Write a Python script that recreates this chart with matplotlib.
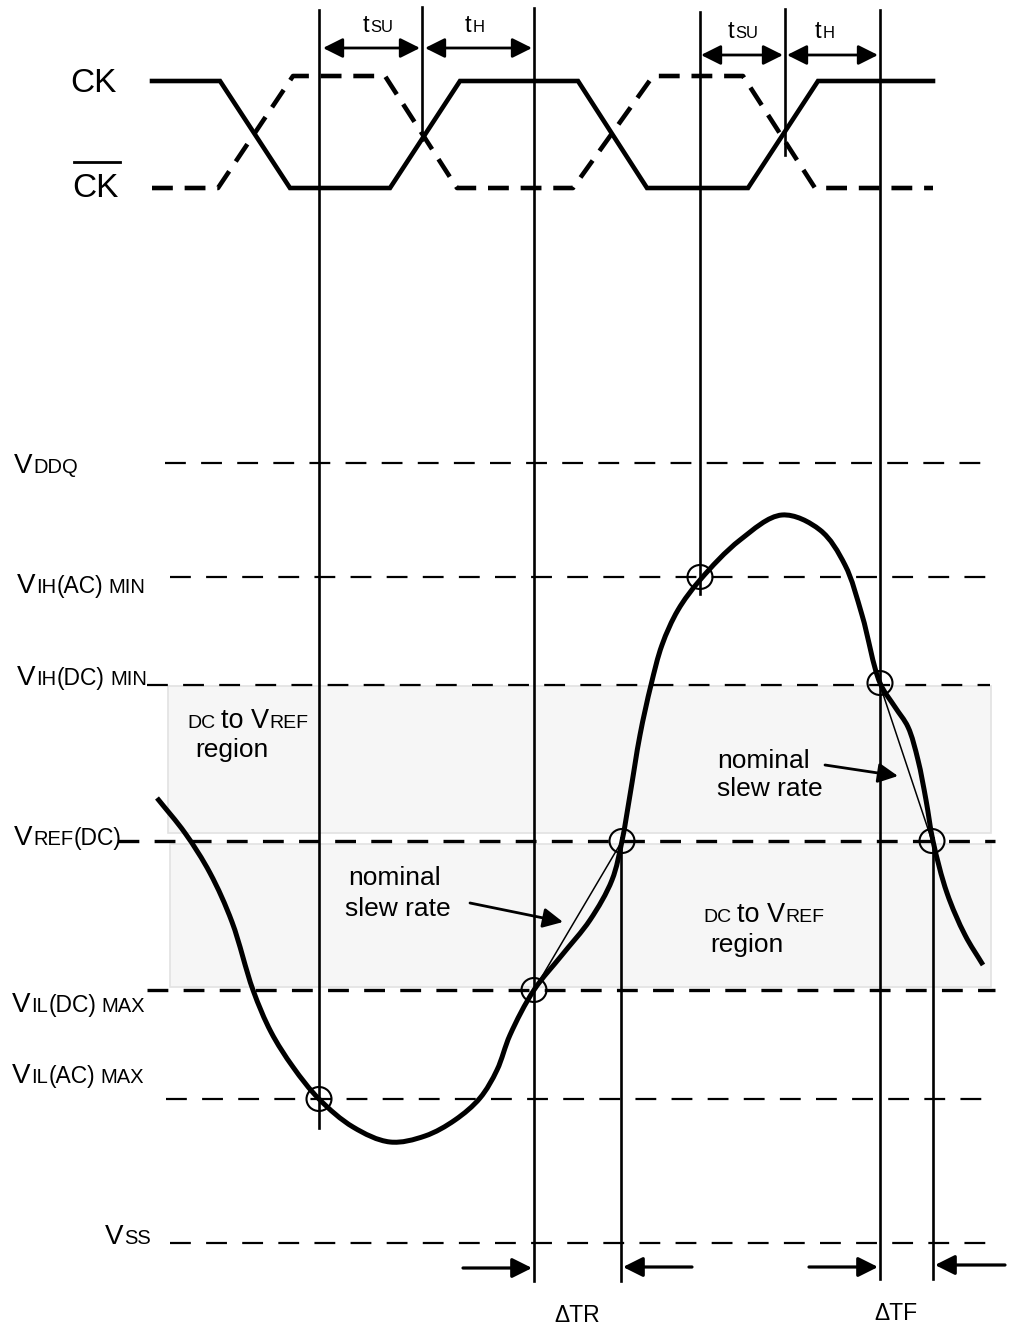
import matplotlib
matplotlib.use("Agg")
import matplotlib.pyplot as plt
import numpy as np
from matplotlib.path import Path
from matplotlib.patches import PathPatch, Ellipse, Rectangle, FancyArrowPatch

plt.rcParams['font.family'] = ['Liberation Sans', 'DejaVu Sans']
plt.rcParams['lines.scale_dashes'] = False

# clock waveforms (pixel coords of the drawing)
ck_x = [152, 220, 290, 390, 460, 578, 647, 748, 818, 933]
ck_y = [81, 81, 188, 188, 81, 81, 188, 188, 81, 81]
ckb_x = [152, 218, 293, 385, 457, 573, 653, 743, 815, 933]
ckb_y = [188, 188, 76, 76, 188, 188, 76, 76, 188, 188]

# voltage levels: label parts, label pos, line y, line start/end, thick?
level_names = ["VDDQ", "VIH(AC) MIN", "VIH(DC) MIN", "VREF(DC)", "VIL(DC) MAX", "VIL(AC) MAX", "VSS"]
level_parts = [
    [("V", 20), ("DDQ", 14.5)],
    [("V", 20), ("IH", 14.5), ("(AC)", 16.5), (" ", 0), ("MIN", 14.5)],
    [("V", 20), ("IH", 14.5), ("(DC)", 16.5), (" ", 0), ("MIN", 14.5)],
    [("V", 20), ("REF", 14.5), ("(DC)", 16.5)],
    [("V", 20), ("IL", 14.5), ("(DC)", 16.5), (" ", 0), ("MAX", 14.5)],
    [("V", 20), ("IL", 14.5), ("(AC)", 16.5), (" ", 0), ("MAX", 14.5)],
    [("V", 20), ("SS", 14.5)],
]
level_label_x = [14, 17, 17, 14, 12, 12, 105]
level_label_y = [473, 593, 685, 845, 1012, 1083, 1244]
level_y = [463, 577, 685, 841, 990, 1099, 1243]
level_x0 = [165, 170, 147, 118, 147, 166, 170]
level_x1 = [990, 990, 990, 995, 995, 990, 1000]
level_thick = [False, False, False, True, True, False, False]

# vertical timing lines: x, top, bottom
vline_x = [319, 534, 700, 880, 621, 933, 422, 785]
vline_top = [10, 8, 12, 10, 838, 838, 7, 9]
vline_bot = [1128, 1281, 594, 1279, 1281, 1279, 140, 155]

# input signal
sig_x = [157, 185, 210, 232, 253, 271, 293, 319, 353, 390, 425, 455, 480, 497,
         510, 534, 562, 590, 612, 622, 630, 640, 651, 662, 678, 700, 740, 782,
         820, 845, 862, 880, 895, 908, 918, 926, 933, 947, 965, 983]
sig_y = [798, 833, 873, 922, 990, 1032, 1067, 1099, 1127, 1142, 1136, 1120, 1098, 1070,
         1035, 990, 955, 920, 880, 841, 795, 735, 685, 645, 610, 580, 540, 515,
         530, 565, 615, 683, 707, 727, 760, 800, 841, 893, 935, 965]

# crossing markers
mark_x = [319, 534, 622, 700, 880, 932]
mark_y = [1099, 990, 841, 577, 683, 841]

# nominal slew rate lines
slew_x = [[534, 622], [880, 932]]
slew_y = [[990, 841], [685, 841]]

# setup / hold arrows
th_arrows = [((323, 48), (420, 48)), ((425, 48), (532, 48)),
             ((701, 55), (783, 55)), ((787, 55), (878, 55))]
th_labels = [("SU", 363, 32), ("H", 465, 32), ("SU", 728, 38), ("H", 815, 38)]

# delta arrows at the bottom
delta_arrows = [((463, 1268), (532, 1268)), ((692, 1267), (623, 1267)),
                ((809, 1267), (878, 1267)), ((1005, 1265), (935, 1265))]
delta_labels = [("\u0394TR", 577, 1322), ("\u0394TF", 896, 1320)]

fig = plt.figure(figsize=(10.13, 13.28), dpi=100)
ax = fig.add_axes([0, 0, 1, 1])
ax.set_xlim(0, 1013)
ax.set_ylim(1328, 0)
ax.axis('off')
renderer = fig.canvas.get_renderer()


def rich_text(x, y, parts):
    for s, size in parts:
        if s == " ":
            x += 5
            continue
        t = ax.text(x, y, s, fontsize=size, va='baseline', ha='left', zorder=6)
        x += t.get_window_extent(renderer).width + 0.5


def smooth_path(xs, ys, alpha=0.5):
    # centripetal Catmull-Rom through the points, as cubic Bezier segments
    pts = np.column_stack([xs, ys]).astype(float)
    n = len(pts)
    ext = np.vstack([2 * pts[0] - pts[1], pts, 2 * pts[-1] - pts[-2]])
    verts = [pts[0]]
    codes = [Path.MOVETO]
    for i in range(1, n):
        p0, p1, p2, p3 = ext[i - 1], ext[i], ext[i + 1], ext[i + 2]
        d0 = np.linalg.norm(p1 - p0) ** alpha
        d1 = np.linalg.norm(p2 - p1) ** alpha
        d2 = np.linalg.norm(p3 - p2) ** alpha
        m1 = (p1 - p0) / d0 - (p2 - p0) / (d0 + d1) + (p2 - p1) / d1
        m2 = (p2 - p1) / d1 - (p3 - p1) / (d1 + d2) + (p3 - p2) / d2
        verts += [p1 + m1 * d1 / 3, p2 - m2 * d1 / 3, p2]
        codes += [Path.CURVE4] * 3
    return Path(verts, codes)


def arrow(a, b, style='-|>', lw=2.0):
    ax.add_patch(FancyArrowPatch(a, b, arrowstyle=style + ',head_length=12,head_width=6',
                                 mutation_scale=1, lw=lw, color='k',
                                 shrinkA=0, shrinkB=0, zorder=5))


# shaded DC-to-VREF regions
ax.add_patch(Rectangle((168, 686), 823, 147, facecolor='#f6f6f6', edgecolor='#e2e2e2', lw=1.2, zorder=0))
ax.add_patch(Rectangle((170, 844), 821, 143, facecolor='#f6f6f6', edgecolor='#e2e2e2', lw=1.2, zorder=0))

# clocks
ax.plot(ck_x, ck_y, color='k', lw=3.3, solid_joinstyle='miter', zorder=3)
ax.plot(ckb_x, ckb_y, color='k', lw=3.3, dashes=(15, 8.5), zorder=3)
ax.text(70, 92, "CK", fontsize=24, va='baseline', zorder=6)
ax.text(72, 197, "CK", fontsize=24, va='baseline', zorder=6)
ax.plot([74, 120], [162, 162], color='k', lw=2)

# levels
for i in range(len(level_names)):
    ax.plot([level_x0[i], level_x1[i]], [level_y[i], level_y[i]], color='k',
            lw=2.4 if level_thick[i] else 1.6, dashes=(15, 11), zorder=2)
    rich_text(level_label_x[i], level_label_y[i], level_parts[i])

# vertical lines
for x, t, b in zip(vline_x, vline_top, vline_bot):
    ax.plot([x, x], [t, b], color='k', lw=1.9, zorder=2)

# signal
ax.add_patch(PathPatch(smooth_path(sig_x, sig_y), fill=False, lw=3.6, edgecolor='k',
                       capstyle='butt', zorder=3))
for xs, ys in zip(slew_x, slew_y):
    ax.plot(xs, ys, color='k', lw=1.1, zorder=3)
for x, y in zip(mark_x, mark_y):
    ax.add_patch(Ellipse((x, y), 25, 24, fill=False, lw=1.5, edgecolor='k', zorder=4))

# tSU / tH
for a, b in th_arrows:
    arrow(a, b, '<|-|>')
for sub, x, y in th_labels:
    rich_text(x, y, [("t", 17), (sub, 12)])

# region labels
for x, y in [(187, 728), (703, 922)]:
    rich_text(x, y, [("DC", 14), (" ", 0), ("to V", 19.5), ("REF", 14)])
ax.text(195, 757, "region", fontsize=19, va='baseline', zorder=6)
ax.text(710, 952, "region", fontsize=19, va='baseline', zorder=6)

# nominal slew rate notes
ax.text(717, 768, "nominal", fontsize=19, va='baseline', zorder=6)
ax.text(717, 796, "slew rate", fontsize=19, va='baseline', zorder=6)
ax.text(348, 885, "nominal", fontsize=19, va='baseline', zorder=6)
ax.text(345, 916, "slew rate", fontsize=19, va='baseline', zorder=6)
arrow((825, 765), (898, 776))
arrow((470, 903), (563, 922))

# delta arrows
for a, b in delta_arrows:
    arrow(a, b, '-|>', lw=2.3)
for s, x, y in delta_labels:
    ax.text(x, y, s, fontsize=16.5, ha='center', va='baseline', zorder=6)

fig.savefig("out.png", dpi=100)
